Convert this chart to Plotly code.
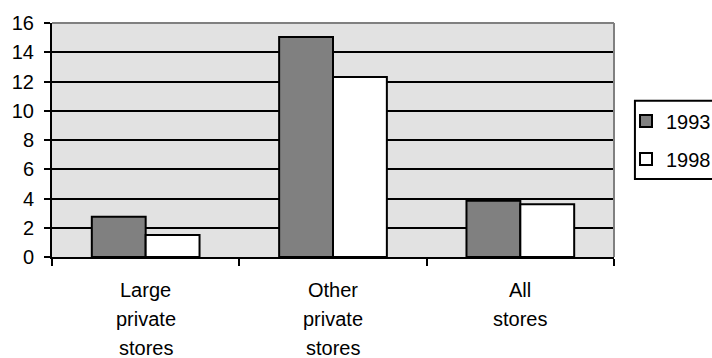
import plotly.graph_objects as go

categories = ["Large private stores", "Other private stores", "All stores"]
label_lines = [["Large", "private", "stores"], ["Other", "private", "stores"], ["All", "stores"]]
series_names = ["1993", "1998"]
values_1993 = [2.75, 15.05, 3.85]
values_1998 = [1.5, 12.3, 3.6]
y_ticks = [0, 2, 4, 6, 8, 10, 12, 14, 16]

FONT = "Liberation Sans, Arial, sans-serif"
FS = 20

fig = go.Figure()
fig.add_trace(go.Bar(name=series_names[0], x=categories, y=values_1993, legendgroup="a",
                     marker=dict(color="#808080", line=dict(color="black", width=2))))
fig.add_trace(go.Bar(name=series_names[1], x=categories, y=values_1998, legendgroup="b",
                     marker=dict(color="white", line=dict(color="black", width=2))))

annotations = []
for cat, lines in zip(categories, label_lines):
    for i, line in enumerate(lines):
        annotations.append(dict(x=cat, xref="x", y=0, yref="paper", text=line,
                                showarrow=False, yanchor="middle", xanchor="center",
                                yshift=-33 - 29 * i,
                                font=dict(family=FONT, size=FS, color="black")))

fig.update_layout(
    width=712, height=358,
    margin=dict(l=50, r=98, t=23, b=101),
    paper_bgcolor="white", plot_bgcolor="#e2e2e2",
    barmode="group", bargap=0.425, bargroupgap=0,
    font=dict(family=FONT, size=FS, color="black"),
    showlegend=True,
    legend=dict(xref="container", yref="container", x=626 / 712, xanchor="left",
                y=1 - 101.5 / 358, yanchor="top",
                borderwidth=0, bgcolor="rgba(0,0,0,0)",
                font=dict(family=FONT, size=FS, color="black"),
                traceorder="grouped", tracegroupgap=9, itemwidth=30),
    annotations=annotations,
    shapes=[
        dict(type="line", xref="paper", yref="paper", x0=0, x1=1, y0=1, y1=1,
             line=dict(color="#808080", width=2), layer="above"),
        dict(type="line", xref="paper", yref="paper", x0=1, x1=1, y0=0, y1=1,
             line=dict(color="#808080", width=2), layer="above"),
        # legend frame
        dict(type="rect", xref="paper", yref="paper",
             x0=(635 - 50) / 564, x1=1.25, y0=(257 - 179) / 234, y1=(257 - 100.7) / 234,
             line=dict(color="black", width=2), fillcolor="white", layer="below"),
    ],
)
fig.update_xaxes(showline=True, linecolor="black", linewidth=2,
                 ticks="outside", tickson="boundaries", ticklen=7, tickwidth=2,
                 tickcolor="black", showticklabels=False, showgrid=False,
                 range=[-0.5, 2.5])
fig.update_yaxes(range=[0, 16], tickvals=y_ticks, showline=True, linecolor="black",
                 linewidth=2, ticks="outside", ticklen=6, tickwidth=2, tickcolor="black",
                 showgrid=True, gridcolor="black", gridwidth=2, zeroline=False,
                 ticklabelstandoff=6,
                 tickfont=dict(family=FONT, size=FS, color="black"))

fig.write_html("out.html")
